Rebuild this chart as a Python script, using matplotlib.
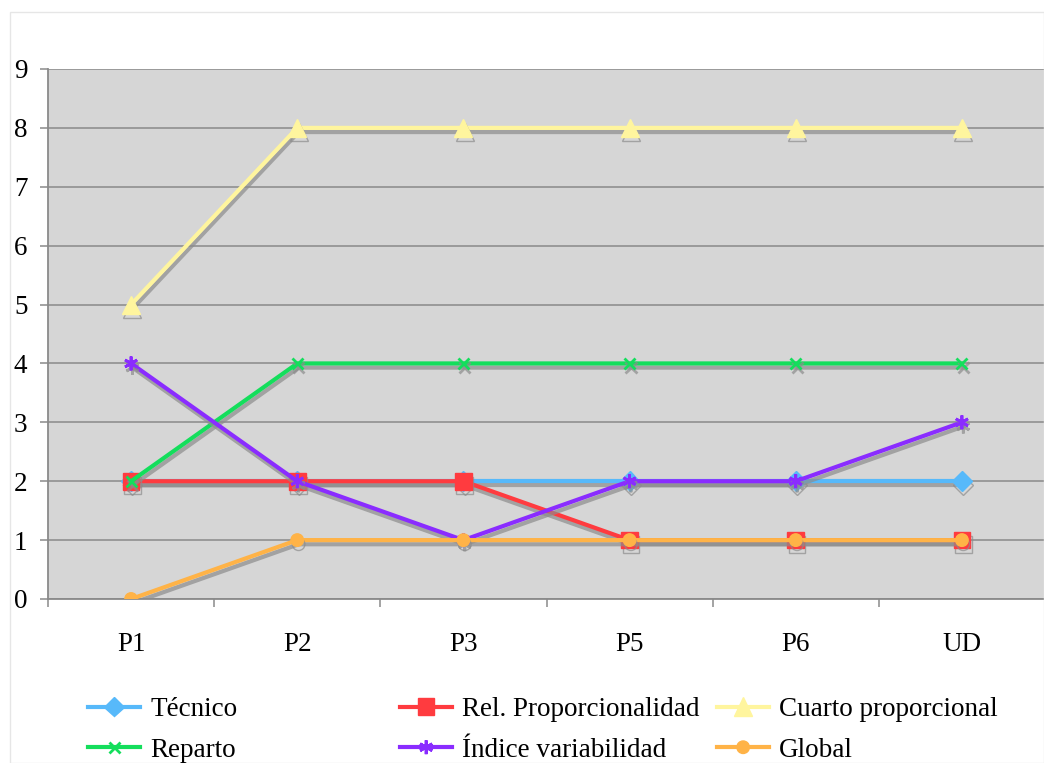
import matplotlib
matplotlib.use("Agg")
import matplotlib.pyplot as plt
import matplotlib.patheffects as pe
from matplotlib.patches import Rectangle

categories = ["P1", "P2", "P3", "P5", "P6", "UD"]
tecnico = [2, 2, 2, 2, 2, 2]
rel_prop = [2, 2, 2, 1, 1, 1]
cuarto = [5, 8, 8, 8, 8, 8]
reparto = [2, 4, 4, 4, 4, 4]
indice = [4, 2, 1, 2, 2, 3]
global_ = [0, 1, 1, 1, 1, 1]
y_ticks = list(range(0, 10))

series = [
    ("Técnico", tecnico, "#57B9FA", "D", 10),
    ("Rel. Proporcionalidad", rel_prop, "#FF3B3F", "s", 12),
    ("Cuarto proporcional", cuarto, "#FFF59E", "^", 13),
    ("Reparto", reparto, "#14DE5C", "x", 8),
    ("Índice variabilidad", indice, "#8A2CFF", (6, 2, 0), 10),
    ("Global", global_, "#FFB347", "o", 9),
]

plt.rcParams['font.family'] = ['Liberation Serif', 'DejaVu Serif']
FS = 19.5

fig = plt.figure(figsize=(10.44, 7.63), dpi=100)
fig.patches.append(Rectangle((10/1044, 0), 1 - 10/1044, 1 - 12/763, transform=fig.transFigure,
                             fill=False, edgecolor="#e6e6e6", linewidth=1))
ax = fig.add_axes([48/1044, 1 - 599/763, 997/1044, (599 - 69)/763])
ax.set_facecolor("#D6D6D6")

x = list(range(len(categories)))
shadow = [pe.SimpleLineShadow(offset=(1, -3), shadow_color="#8c8c8c", alpha=0.7), pe.Normal()]
handles = []
for name, vals, col, mk, ms in series:
    mew = 2 if mk == "x" or isinstance(mk, tuple) else 1
    ln, = ax.plot(x, vals, color=col, lw=3, marker=mk, markersize=ms,
                  markerfacecolor=col, markeredgecolor=col, markeredgewidth=mew,
                  label=name, zorder=3, path_effects=shadow, solid_joinstyle="round")
    handles.append(ln)

ax.set_xlim(-0.5, len(categories) - 0.5)
ax.set_ylim(0, 9)
ax.set_yticks(y_ticks)
ax.set_yticklabels([str(v) for v in y_ticks])
ax.grid(axis="y", color="#8a8a8a", lw=1.1, zorder=1)
ax.set_axisbelow(True)

ax.set_xticks(x)
ax.set_xticklabels(categories)
ax.set_xticks([i + 0.5 for i in range(-1, len(categories))], minor=True)
ax.tick_params(axis="x", which="major", length=0, pad=24, labelsize=FS)
ax.tick_params(axis="x", which="minor", length=5.8, color="#8a8a8a", width=1.1)
ax.tick_params(axis="y", length=5.8, color="#8a8a8a", width=1.1, pad=9, labelsize=FS)

for s in ["top", "right"]:
    ax.spines[s].set_visible(False)
for s in ["left", "bottom"]:
    ax.spines[s].set_color("#8a8a8a")
    ax.spines[s].set_linewidth(1.3)

# legend in three columns placed like the reference
cols = [(0, 3), (1, 4), (2, 5)]
xs = [88/1044, 400/1044, 717/1044]
for (a, b), xl in zip(cols, xs):
    leg = fig.legend([handles[a], handles[b]], [series[a][0], series[b][0]],
                     loc="upper left", bbox_to_anchor=(xl, 1 - 697/763),
                     frameon=False, fontsize=FS, handlelength=1.93, handletextpad=0.37,
                     labelspacing=0.58, borderaxespad=0, borderpad=0)
    for h in leg.legend_handles:
        h.set_path_effects([pe.Normal()])

fig.savefig("out.png", dpi=100)
